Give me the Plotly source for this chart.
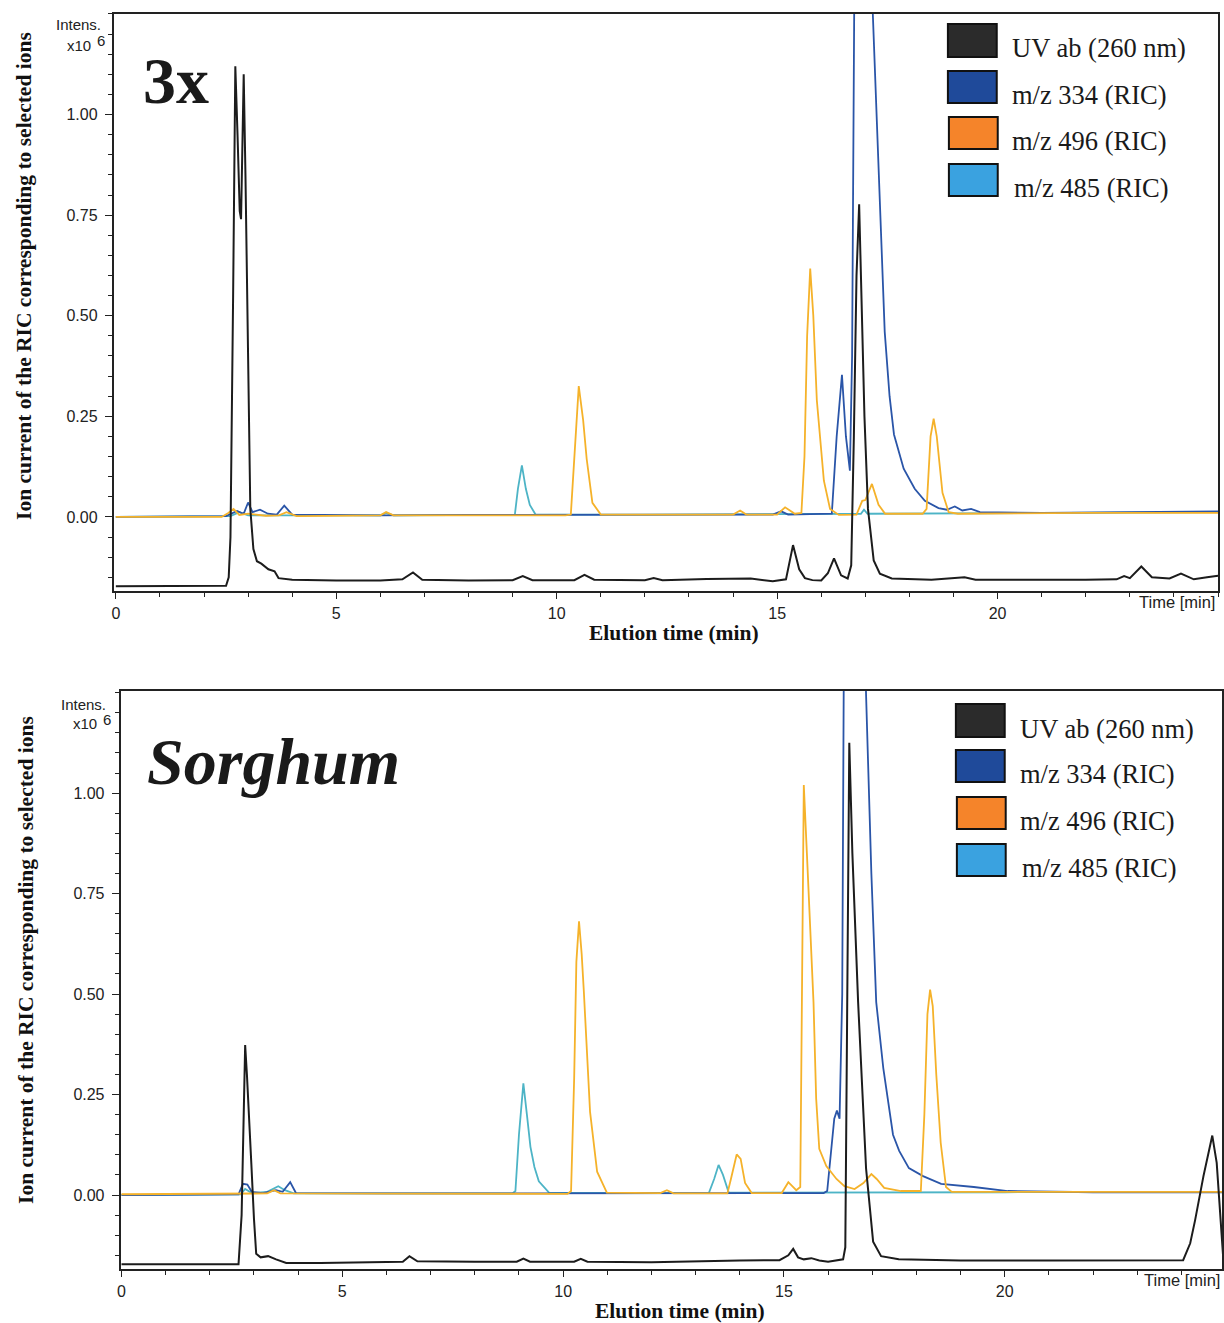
import plotly.graph_objects as go

W, H = 1224, 1323

# ---------------- DATA: panel "3x" ----------------
t_uv_3x = [0.0, 1.0, 2.0, 2.5, 2.56, 2.6, 2.66, 2.71, 2.76, 2.81, 2.84, 2.87, 2.90, 2.94, 2.98, 3.05, 3.12, 3.2,
           3.3, 3.46, 3.6, 3.69, 4.0, 5.0, 6.0, 6.5, 6.74, 6.95, 8.0, 9.0, 9.23, 9.45, 10.4, 10.63, 10.85, 12.0,
           12.2, 12.4, 13.4, 13.6, 14.4, 14.9, 15.2, 15.36, 15.5, 15.63, 15.8, 16.0, 16.15, 16.29, 16.45, 16.6,
           16.68, 16.74, 16.8, 16.86, 16.92, 16.98, 17.06, 17.19, 17.33, 17.6, 18.5, 19.25, 19.5, 21.0, 22.0,
           22.7, 22.87, 23.0, 23.26, 23.5, 23.9, 24.16, 24.45, 24.75, 25.0]
i_uv_3x = [-0.172, -0.172, -0.172, -0.171, -0.15, -0.05, 0.55, 1.12, 0.95, 0.76, 0.74, 0.9, 1.10, 0.85, 0.55, 0.02,
           -0.08, -0.11, -0.116, -0.13, -0.135, -0.152, -0.156, -0.158, -0.158, -0.155, -0.138, -0.156, -0.158,
           -0.157, -0.147, -0.157, -0.157, -0.144, -0.156, -0.157, -0.152, -0.157, -0.154, -0.154, -0.153, -0.16,
           -0.155, -0.07, -0.13, -0.152, -0.157, -0.158, -0.14, -0.103, -0.145, -0.153, -0.12, 0.2, 0.6, 0.777,
           0.5, 0.25, 0.02, -0.108, -0.141, -0.153, -0.156, -0.15, -0.156, -0.157, -0.156, -0.155, -0.147, -0.152,
           -0.123, -0.15, -0.153, -0.141, -0.155, -0.15, -0.146]

t_334_3x = [0.0, 2.5, 2.75, 2.9, 3.0, 3.1, 3.27, 3.45, 3.65, 3.82, 4.0, 6.0, 8.0, 10.0, 12.0, 14.9, 15.09, 15.25,
            16.24, 16.35, 16.47, 16.56, 16.65, 16.70, 16.75, 16.95, 17.17, 17.3, 17.44, 17.55, 17.65, 17.87, 18.12,
            18.35, 18.66, 18.85, 19.03, 19.2, 19.4, 19.6, 21.0, 23.0, 25.0]
i_334_3x = [0.0, 0.002, 0.015, 0.008, 0.036, 0.012, 0.018, 0.008, 0.006, 0.028, 0.006, 0.004, 0.005, 0.005, 0.006,
            0.006, 0.014, 0.006, 0.008, 0.2, 0.353, 0.2, 0.115, 0.4, 1.3, 2.4, 1.25, 0.85, 0.46, 0.3, 0.205, 0.12,
            0.07, 0.04, 0.022, 0.018, 0.026, 0.016, 0.02, 0.012, 0.01, 0.012, 0.014]

t_496_3x = [0.0, 2.4, 2.55, 2.67, 2.8, 3.0, 3.4, 3.7, 3.87, 4.1, 6.0, 6.13, 6.3, 10.2, 10.32, 10.42, 10.50, 10.6,
            10.68, 10.81, 11.0, 13.2, 14.0, 14.16, 14.3, 15.0, 15.18, 15.4, 15.55, 15.62, 15.68, 15.75, 15.82, 15.9,
            16.06, 16.2, 16.4, 16.8, 16.93, 17.0, 17.15, 17.3, 17.45, 18.3, 18.39, 18.48, 18.55, 18.62, 18.75,
            18.89, 19.1, 22.0, 25.0]
i_496_3x = [0.0, 0.0, 0.01, 0.02, 0.005, 0.008, 0.003, 0.004, 0.012, 0.002, 0.004, 0.012, 0.004, 0.004, 0.006,
            0.18, 0.325, 0.24, 0.144, 0.035, 0.006, 0.006, 0.006, 0.016, 0.006, 0.006, 0.024, 0.008, 0.01, 0.15,
            0.45, 0.617, 0.5, 0.29, 0.09, 0.02, 0.005, 0.006, 0.04, 0.042, 0.082, 0.03, 0.008, 0.008, 0.02, 0.2,
            0.244, 0.2, 0.06, 0.012, 0.008, 0.01, 0.01]

t_485_3x = [0.0, 2.6, 2.8, 3.0, 6.0, 6.13, 6.3, 9.05, 9.12, 9.21, 9.3, 9.39, 9.52, 12.0, 16.9, 16.97, 17.05, 20.0, 25.0]
i_485_3x = [0.0, 0.002, 0.012, 0.004, 0.004, 0.01, 0.004, 0.005, 0.07, 0.128, 0.07, 0.03, 0.006, 0.006, 0.008,
            0.018, 0.008, 0.01, 0.012]

# ---------------- DATA: panel "Sorghum" ----------------
t_uv_sg = [0.0, 1.0, 2.0, 2.65, 2.72, 2.76, 2.80, 2.84, 2.89, 2.94, 3.0, 3.05, 3.15, 3.32, 3.5, 3.73, 4.5, 5.5,
           6.37, 6.52, 6.7, 8.0, 8.95, 9.1, 9.25, 10.25, 10.4, 10.55, 12.0, 14.0, 14.9, 15.1, 15.21, 15.32, 15.45,
           15.62, 15.8, 16.0, 16.34, 16.39, 16.43, 16.48, 16.55, 16.68, 16.78, 16.86, 17.02, 17.2, 17.6, 19.0,
           21.0, 23.0, 24.04, 24.2, 24.31, 24.5, 24.7, 24.8, 24.88, 24.95]
i_uv_sg = [-0.172, -0.172, -0.172, -0.172, -0.05, 0.2, 0.373, 0.3, 0.17, 0.078, -0.06, -0.146, -0.155, -0.152,
           -0.16, -0.169, -0.169, -0.168, -0.166, -0.152, -0.165, -0.166, -0.166, -0.158, -0.166, -0.166, -0.159,
           -0.166, -0.167, -0.163, -0.162, -0.15, -0.134, -0.155, -0.16, -0.157, -0.163, -0.166, -0.16, -0.13, 0.4,
           1.125, 0.85, 0.48, 0.25, 0.066, -0.116, -0.152, -0.16, -0.163, -0.163, -0.163, -0.162, -0.12, -0.063,
           0.047, 0.148, 0.08, -0.04, -0.16]

t_334_sg = [0.0, 2.65, 2.75, 2.85, 2.95, 3.2, 3.5, 3.65, 3.82, 3.95, 6.0, 10.0, 14.0, 15.9, 15.98, 16.06, 16.14,
            16.2, 16.26, 16.32, 16.36, 16.6, 16.82, 16.86, 16.98, 17.09, 17.25, 17.47, 17.61, 17.83, 18.15, 18.56,
            19.3, 20.07, 22.0, 25.0]
i_334_sg = [0.0, 0.002, 0.028, 0.026, 0.008, 0.005, 0.012, 0.008, 0.032, 0.005, 0.004, 0.005, 0.005, 0.005, 0.01,
            0.1, 0.19, 0.21, 0.19, 0.5, 1.4, 2.5, 1.4, 1.245, 0.8, 0.48, 0.316, 0.15, 0.11, 0.067, 0.047, 0.028,
            0.02, 0.01, 0.007, 0.007]

t_496_sg = [0.0, 3.3, 3.45, 3.6, 10.1, 10.18, 10.25, 10.3, 10.36, 10.42, 10.47, 10.54, 10.61, 10.77, 10.99, 12.2,
            12.35, 12.5, 13.72, 13.8, 13.93, 14.02, 14.12, 14.27, 14.95, 15.1, 15.28, 15.37, 15.41, 15.45, 15.52,
            15.6, 15.67, 15.73, 15.8, 15.96, 16.19, 16.37, 16.6, 16.8, 16.98, 17.1, 17.27, 17.65, 18.1, 18.18,
            18.25, 18.31, 18.37, 18.45, 18.55, 18.67, 18.8, 22.0, 25.0]
i_496_sg = [0.002, 0.004, 0.012, 0.004, 0.003, 0.01, 0.29, 0.58, 0.681, 0.6, 0.505, 0.35, 0.207, 0.058, 0.006,
            0.005, 0.012, 0.004, 0.004, 0.04, 0.101, 0.09, 0.03, 0.005, 0.005, 0.032, 0.012, 0.02, 0.5, 1.02, 0.85,
            0.65, 0.48, 0.24, 0.115, 0.072, 0.04, 0.022, 0.015, 0.03, 0.052, 0.04, 0.018, 0.01, 0.01, 0.2, 0.45,
            0.511, 0.47, 0.3, 0.13, 0.02, 0.008, 0.008, 0.008]

t_485_sg = [0.0, 2.7, 2.8, 2.95, 3.3, 3.55, 3.7, 3.9, 8.85, 8.92, 9.0, 9.10, 9.18, 9.26, 9.35, 9.45, 9.68, 13.3,
            13.42, 13.52, 13.62, 13.75, 20.0, 25.0]
i_485_sg = [0.0, 0.002, 0.015, 0.005, 0.008, 0.022, 0.012, 0.004, 0.004, 0.01, 0.15, 0.278, 0.2, 0.12, 0.07,
            0.034, 0.006, 0.005, 0.04, 0.075, 0.05, 0.006, 0.007, 0.008]

series_names = ["UV ab (260 nm)", "m/z 334 (RIC)", "m/z 496 (RIC)", "m/z 485 (RIC)"]
y_tick_vals = [0.0, 0.25, 0.50, 0.75, 1.00]
y_tick_text = ["0.00", "0.25", "0.50", "0.75", "1.00"]
x_tick_vals = [0, 5, 10, 15, 20]
x_tick_text = ["0", "5", "10", "15", "20"]

# ---------------- STYLE ----------------
line_colors = {"uv": "#1c1c1c", "334": "#2a55a8", "496": "#f5b22a", "485": "#4db4c6"}
legend_fill = ["#2b2b2b", "#1f4a9a", "#f5842a", "#3aa2e0"]
SERIF = "Liberation Serif, Times New Roman, serif"
SANS = "Liberation Sans, Arial, sans-serif"


def px(x):
    return x / W


def py(y):
    return 1 - y / H


fig = go.Figure()

panels = [
    ("x", "y", [(t_485_3x, i_485_3x, "485"), (t_334_3x, i_334_3x, "334"), (t_496_3x, i_496_3x, "496"),
                (t_uv_3x, i_uv_3x, "uv")]),
    ("x2", "y2", [(t_485_sg, i_485_sg, "485"), (t_334_sg, i_334_sg, "334"), (t_496_sg, i_496_sg, "496"),
                  (t_uv_sg, i_uv_sg, "uv")]),
]
for xa, ya, traces in panels:
    for t, v, key in traces:
        fig.add_trace(go.Scatter(x=t, y=v, xaxis=xa, yaxis=ya, mode="lines",
                                 line=dict(color=line_colors[key], width=2.0 if key == "uv" else 1.8),
                                 showlegend=False, hoverinfo="skip"))


def xaxis_cfg(domain, rng, anchor):
    return dict(domain=domain, range=rng, anchor=anchor, showgrid=False, zeroline=False,
                showline=True, linecolor="#222", linewidth=1.5, mirror=True,
                tickvals=x_tick_vals, ticktext=x_tick_text, ticks="outside", ticklen=6, tickwidth=1.2,
                tickcolor="#222", tickfont=dict(family=SANS, size=16, color="#222"),
                minor=dict(dtick=1, tick0=0, ticks="outside", ticklen=4, tickcolor="#222", tickwidth=1.2),
                ticklabelstandoff=1)


def yaxis_cfg(domain, rng, anchor):
    return dict(domain=domain, range=rng, anchor=anchor, showgrid=False, zeroline=False,
                showline=True, linecolor="#222", linewidth=1.8, mirror=True,
                tickvals=y_tick_vals, ticktext=y_tick_text, ticks="outside", ticklen=7, tickwidth=1.2,
                tickcolor="#222", tickfont=dict(family=SANS, size=16, color="#222"),
                minor=dict(dtick=0.05, tick0=0, ticks="outside", ticklen=4, tickcolor="#222", tickwidth=1.2),
                ticklabelstandoff=4)


fig.update_layout(
    width=W, height=H, margin=dict(l=0, r=0, t=0, b=0),
    paper_bgcolor="white", plot_bgcolor="white",
    xaxis=xaxis_cfg([px(110), px(1218)], [-0.05, 25.0], "y"),
    yaxis=yaxis_cfg([py(591), py(13.5)], [-0.184, 1.251], "x"),
    xaxis2=xaxis_cfg([px(117), px(1222)], [-0.02, 24.92], "y2"),
    yaxis2=yaxis_cfg([py(1269), py(691)], [-0.184, 1.254], "x2"),
)

annotations = []
shapes = []

panel_text = [
    dict(ix=99, iy=25, xx=89, xy=45, sx=91, sy=40, tx=1217, ty=602, ex=672, ey=633, yx=20, yy=276,
         big="<b>3x</b>", bx=137, by=81,
         lx0=947, lys=[(24, 57), (71, 103), (117, 149), (164, 196)], ltx=1009),
    dict(ix=104, iy=704, xx=95, xy=724, sx=97, sy=719, tx=1222, ty=1280, ex=678, ey=1311, yx=22, yy=960,
         big="<b><i>Sorghum</i></b>", bx=141, by=761,
         lx0=955, lys=[(704, 737), (750, 782), (797, 829), (844, 876)], ltx=1017),
]
for p in panel_text:
    annotations.append(dict(text="Intens.", x=px(p["ix"]), y=py(p["iy"]), xref="paper", yref="paper",
                            xanchor="right", yanchor="middle", showarrow=False,
                            font=dict(family=SANS, size=15, color="#222")))
    annotations.append(dict(text="x10", x=px(p["xx"]), y=py(p["xy"]), xref="paper", yref="paper",
                            xanchor="right", yanchor="middle", showarrow=False,
                            font=dict(family=SANS, size=15, color="#222")))
    annotations.append(dict(text="6", x=px(p["sx"]), y=py(p["sy"]), xref="paper", yref="paper",
                            xanchor="left", yanchor="middle", showarrow=False,
                            font=dict(family=SANS, size=15, color="#222")))
    annotations.append(dict(text="Time [min]", x=px(p["tx"]), y=py(p["ty"]), xref="paper", yref="paper",
                            xanchor="right", yanchor="middle", showarrow=False,
                            font=dict(family=SANS, size=16.5, color="#222")))
    annotations.append(dict(text="<b>Elution time (min)</b>", x=px(p["ex"]), y=py(p["ey"]), xref="paper",
                            yref="paper", xanchor="center", yanchor="middle", showarrow=False,
                            font=dict(family=SERIF, size=21.5, color="#111")))
    annotations.append(dict(text="<b>Ion current of the RIC corresponding to selected ions</b>", x=px(p["yx"]),
                            y=py(p["yy"]), xref="paper", yref="paper", xanchor="center", yanchor="middle",
                            textangle=-90, showarrow=False, font=dict(family=SERIF, size=21.5, color="#111")))
    annotations.append(dict(text=p["big"], x=px(p["bx"]), y=py(p["by"]), xref="paper", yref="paper",
                            xanchor="left", yanchor="middle", showarrow=False,
                            font=dict(family=SERIF, size=66, color="#1a1a1a")))
    for k, (y0, y1) in enumerate(p["lys"]):
        shapes.append(dict(type="rect", xref="paper", yref="paper", x0=px(p["lx0"] + (1 if k >= 2 else 0)),
                           x1=px(p["lx0"] + 49 + (1 if k >= 2 else 0)), y0=py(y1), y1=py(y0),
                           fillcolor=legend_fill[k], line=dict(color="#111", width=2)))
        annotations.append(dict(text=series_names[k], x=px(p["ltx"] + (2 if k == 3 else 0)),
                                y=py((y0 + y1) / 2 + 8), xref="paper", yref="paper", xanchor="left",
                                yanchor="middle", showarrow=False,
                                font=dict(family=SERIF, size=26.5, color="#1a1a1a")))

fig.update_layout(annotations=annotations, shapes=shapes)
fig.write_html("out.html")
